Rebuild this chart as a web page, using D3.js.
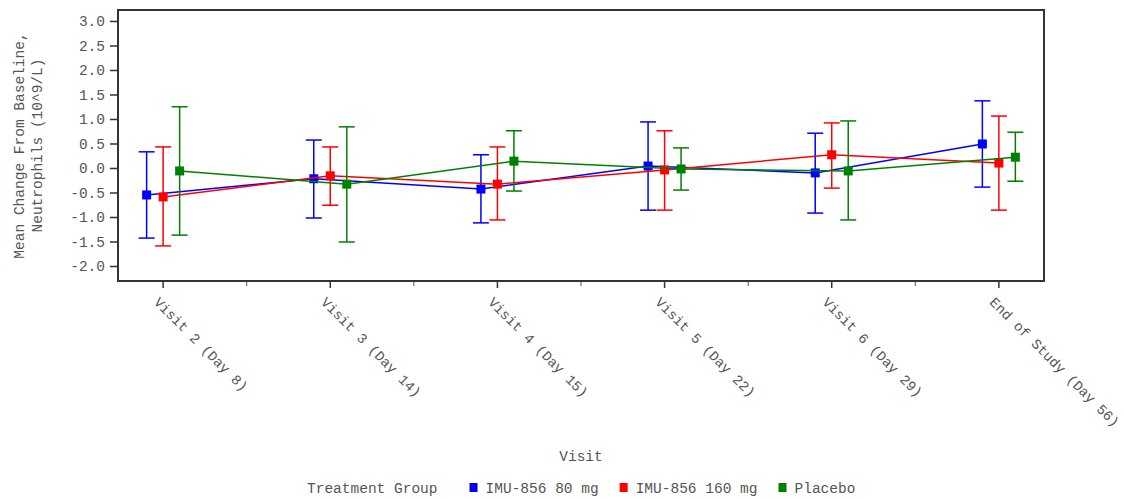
<!DOCTYPE html>
<html>
<head>
<meta charset="utf-8">
<script src="https://cdn.jsdelivr.net/npm/d3@7"></script>
<style>
  body { margin: 0; background: #fff; }
  text { font-family: "Liberation Mono", "DejaVu Sans Mono", monospace; fill: #555; }
</style>
</head>
<body>
<svg width="1124" height="499"></svg>
<script>
// visits on the x axis
const visits = ["Visit 2 (Day 8)", "Visit 3 (Day 14)", "Visit 4 (Day 15)",
    "Visit 5 (Day 22)", "Visit 6 (Day 29)", "End of Study (Day 56)"];
const groups = ["IMU-856 80 mg", "IMU-856 160 mg", "Placebo"];
const colors = ["#0000ff", "#ff0000", "#008000"];

// mean change and error bar ends, per group
const mean80 = [-0.55, -0.22, -0.43, 0.04, -0.10, 0.49];
const lo80 = [-1.43, -1.02, -1.12, -0.86, -0.92, -0.39];
const hi80 = [0.33, 0.57, 0.27, 0.94, 0.71, 1.37];

const mean160 = [-0.59, -0.16, -0.33, -0.04, 0.27, 0.10];
const lo160 = [-1.59, -0.76, -1.06, -0.86, -0.41, -0.86];
const hi160 = [0.43, 0.43, 0.43, 0.76, 0.92, 1.06];

const meanPbo = [-0.06, -0.33, 0.14, -0.02, -0.06, 0.22];
const loPbo = [-1.37, -1.51, -0.47, -0.45, -1.06, -0.27];
const hiPbo = [1.25, 0.84, 0.76, 0.41, 0.96, 0.73];

const yTicks = [-2.0, -1.5, -1.0, -0.5, 0.0, 0.5, 1.0, 1.5, 2.0, 2.5, 3.0];

const series = [
    { name: groups[0], color: colors[0], mean: mean80, lo: lo80, hi: hi80 },
    { name: groups[1], color: colors[1], mean: mean160, lo: lo160, hi: hi160 },
    { name: groups[2], color: colors[2], mean: meanPbo, lo: loPbo, hi: hiPbo }
];

const svg = d3.select("svg");
const plotL = 118, plotR = 1044, plotT = 10, plotB = 281;
const fontSize = 14.5;

const x = d3.scalePoint().domain(visits).range([plotL, plotR]).padding(0.27);
const offset = d3.scalePoint().domain(groups).range([-16.5, 16.5]);
const y = d3.scaleLinear().domain([-2.306, 3.224]).range([plotB, plotT]);

// y axis
const yAxis = svg.append("g")
    .attr("transform", `translate(${plotL},0)`)
    .call(d3.axisLeft(y).tickValues(yTicks).tickSize(8).tickPadding(5)
        .tickFormat(d => d.toFixed(1)));
yAxis.select(".domain").remove();
yAxis.selectAll(".tick line").attr("stroke", "#333").attr("stroke-width", 1.5);
yAxis.selectAll("text").attr("font-size", fontSize).attr("font-family", null).attr("fill", "#555");

// x axis ticks (major at visits, minor between)
const minor = d3.pairs(visits).map(([a, b]) => (x(a) + x(b)) / 2);
svg.append("g").selectAll("line.major").data(visits).join("line")
    .attr("x1", d => x(d)).attr("x2", d => x(d))
    .attr("y1", plotB).attr("y2", plotB + 7)
    .attr("stroke", "#333").attr("stroke-width", 1.5);
svg.append("g").selectAll("line.minor").data(minor).join("line")
    .attr("x1", d => d).attr("x2", d => d)
    .attr("y1", plotB).attr("y2", plotB + 5)
    .attr("stroke", "#555").attr("stroke-width", 1);

svg.append("g").selectAll("text").data(visits).join("text")
    .attr("transform", d => `translate(${x(d) - 10},${plotB + 22}) rotate(45)`)
    .attr("font-size", 14)
    .text(d => d);

// frame
svg.append("rect")
    .attr("x", plotL).attr("y", plotT)
    .attr("width", plotR - plotL).attr("height", plotB - plotT)
    .attr("fill", "none").attr("stroke", "#333").attr("stroke-width", 2);

// series: line, error bars, markers
const line = d3.line()
    .x((d, i) => x(visits[i]) + d.off)
    .y(d => y(d.v));

series.forEach(s => {
    const off = offset(s.name);
    const g = svg.append("g");
    g.append("path")
        .datum(s.mean.map(v => ({ v, off })))
        .attr("d", line)
        .attr("fill", "none")
        .attr("stroke", s.color)
        .attr("stroke-width", 1.5);

    const bars = g.selectAll("g.bar").data(visits).join("g")
        .attr("transform", d => `translate(${x(d) + off},0)`)
        .attr("stroke", s.color)
        .attr("stroke-width", 1.5);
    bars.append("line")
        .attr("y1", (d, i) => y(s.lo[i])).attr("y2", (d, i) => y(s.hi[i]));
    bars.append("line")
        .attr("x1", -8).attr("x2", 8)
        .attr("y1", (d, i) => y(s.hi[i])).attr("y2", (d, i) => y(s.hi[i]));
    bars.append("line")
        .attr("x1", -8).attr("x2", 8)
        .attr("y1", (d, i) => y(s.lo[i])).attr("y2", (d, i) => y(s.lo[i]));

    g.selectAll("rect").data(s.mean).join("rect")
        .attr("x", (d, i) => x(visits[i]) + off - 4.5)
        .attr("y", d => y(d) - 4.5)
        .attr("width", 9).attr("height", 9)
        .attr("fill", s.color);
});

// axis titles
svg.append("text")
    .attr("x", (plotL + plotR) / 2).attr("y", 461)
    .attr("text-anchor", "middle")
    .attr("font-size", fontSize)
    .text("Visit");

const yTitle = svg.append("text")
    .attr("transform", `translate(24,${(plotT + plotB) / 2}) rotate(-90)`)
    .attr("text-anchor", "middle")
    .attr("font-size", fontSize);
yTitle.append("tspan").attr("x", 0).attr("y", 0).text("Mean Change From Baseline,");
yTitle.append("tspan").attr("x", 0).attr("y", 18).text("Neutrophils (10^9/L)");

// legend
const legend = svg.append("g").attr("transform", "translate(307,493)");
let lx = 0;
const lt = legend.append("text").attr("x", lx).attr("font-size", fontSize).text("Treatment Group");
lx += lt.node().getComputedTextLength() + 32;
series.forEach(s => {
    legend.append("rect")
        .attr("x", lx).attr("y", -10)
        .attr("width", 8).attr("height", 9)
        .attr("fill", s.color);
    const t = legend.append("text").attr("x", lx + 16)
        .attr("font-size", fontSize).text(s.name);
    lx += 16 + t.node().getComputedTextLength() + 21;
});
</script>
</body>
</html>
